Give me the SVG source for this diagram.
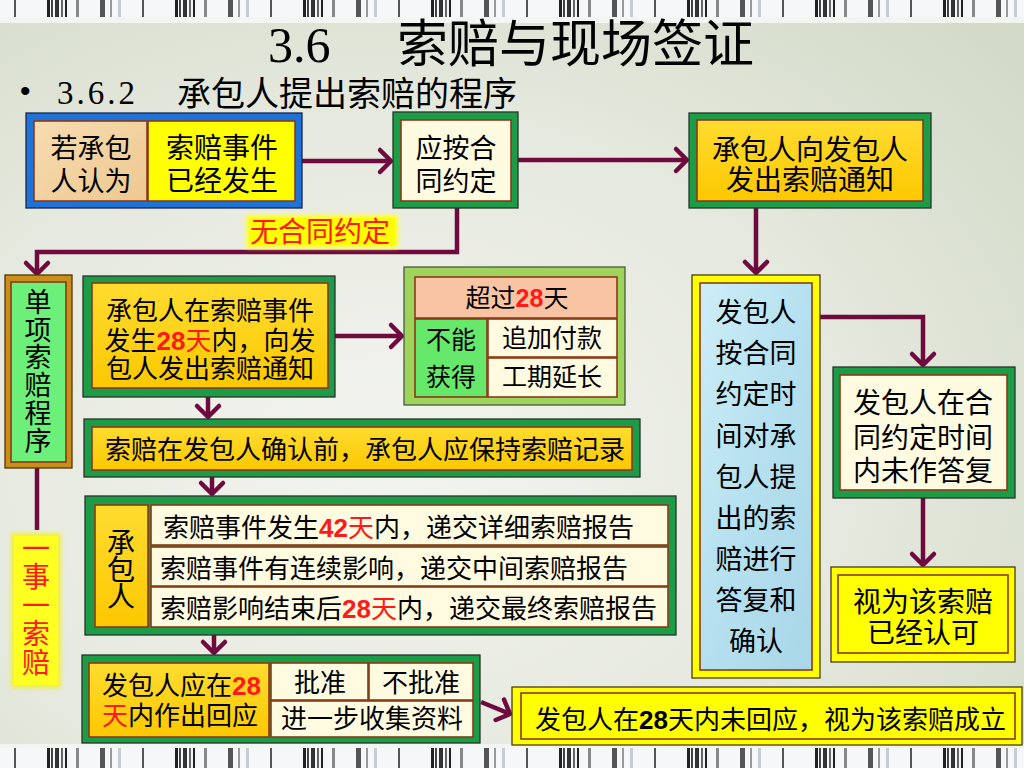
<svg xmlns="http://www.w3.org/2000/svg" width="1024" height="768" viewBox="0 0 1024 768">
<style>
.t{font-family:"Noto Sans CJK SC","Noto Sans CJK TC",sans-serif;font-size:26px;fill:#000}
.t25{font-size:25px}
.t27{font-size:27px}
.t28{font-size:28px}
.h1{font-size:51px}
.h2{font-size:34px}
.m{text-anchor:middle}
.v{writing-mode:vertical-rl;text-orientation:upright}
.d{font-family:"Liberation Sans",Arial,sans-serif;font-weight:bold}
.r{fill:#ff1a1a}
.fg{fill:#1d9c48;stroke:#2a332a;stroke-width:1.3}
.fb{fill:#1f72d6;stroke:#1a2550;stroke-width:1.3}
.fy{fill:#ffff00;stroke:#4a3c10;stroke-width:1.3}
.fl{fill:#9fd45c;stroke:#4b5a3c;stroke-width:1.3}
.fo{fill:#c98f18;stroke:#50360c;stroke-width:1.3}
.p{stroke:#8a3a18;stroke-width:1.6}
.pgold{fill:url(#gGold)}
.pyel{fill:#ffff00}
.pcream{fill:#fffbe0}
.ptan{fill:url(#gTan)}
.ppink{fill:#f8c4a4}
.pgrn{fill:#66e86a}
.plgrn{fill:#6cf07a}
.pblue{fill:url(#gBlue)}
.c{fill:none;stroke:#6e0a3e;stroke-width:4.5;marker-end:url(#arr)}
.cn{fill:none;stroke:#6e0a3e;stroke-width:4.5}
</style>
<defs>
<radialGradient id="bg" cx="0.38" cy="0.6" r="0.8">
<stop offset="0" stop-color="#f3f4ef"/>
<stop offset="0.55" stop-color="#e6e9df"/>
<stop offset="1" stop-color="#d3dbc8"/>
</radialGradient>
<linearGradient id="gGold" x1="0" y1="0" x2="0" y2="1">
<stop offset="0" stop-color="#ffdc30"/>
<stop offset="1" stop-color="#fcc800"/>
</linearGradient>
<linearGradient id="gTan" x1="0" y1="0" x2="1" y2="1">
<stop offset="0" stop-color="#f7dcb0"/>
<stop offset="1" stop-color="#eec890"/>
</linearGradient>
<linearGradient id="gBlue" x1="0" y1="0" x2="1" y2="1">
<stop offset="0" stop-color="#cdeef8"/>
<stop offset="0.5" stop-color="#b5e0ef"/>
<stop offset="1" stop-color="#a9d6e8"/>
</linearGradient>
<filter id="glow" x="-20%" y="-20%" width="140%" height="140%">
<feGaussianBlur stdDeviation="2"/>
</filter>
<marker id="arr" viewBox="0 0 14 24" refX="12" refY="12" markerWidth="14" markerHeight="24" markerUnits="userSpaceOnUse" orient="auto" overflow="visible">
<path d="M1,1 L12,12 L1,23" fill="none" stroke="#6e0a3e" stroke-width="4.5" stroke-linecap="round" stroke-linejoin="round"/>
</marker>
<pattern id="bars" x="0" y="0" width="128" height="24" patternUnits="userSpaceOnUse">
<rect width="128" height="24" fill="#f6f7f8"/>
<rect x="14" width="2" height="24" fill="#555"/>
<rect x="47" width="3" height="24" fill="#222"/>
<rect x="51" width="2" height="24" fill="#444"/>
<rect x="55" width="4" height="24" fill="#333"/>
<rect x="61" width="2" height="24" fill="#666"/>
<rect x="65" width="2" height="24" fill="#222"/>
<rect x="76" width="3" height="24" fill="#888"/>
<rect x="100" width="5" height="24" fill="#555"/>
<rect x="110" width="2" height="24" fill="#9a9a9a"/>
<rect x="118" width="3" height="24" fill="#c8ccd4"/>
</pattern>
</defs>

<rect width="1024" height="768" fill="url(#bg)"/>
<rect x="0" y="0" width="1024" height="17" fill="url(#bars)"/>
<rect x="0" y="17" width="1024" height="6" fill="#fafafa" opacity="0.8"/>
<rect x="0" y="748" width="1024" height="20" fill="url(#bars)"/>
<rect x="0" y="744" width="1024" height="4" fill="#fafafa" opacity="0.7"/>

<g id="title">
<text x="268" y="62" style="font-family:'Liberation Serif',serif;font-size:50px">3.6</text>
<text x="397" y="62" class="t h1">索赔与现场签证</text>
<text x="20" y="101" style="font-family:'Liberation Sans',sans-serif;font-size:30px">•</text>
<text x="57" y="104" style="font-family:'Liberation Serif',serif;font-size:33px;letter-spacing:3px">3.6.2</text>
<text x="177" y="106" class="t h2">承包人提出索赔的程序</text>
</g>

<g id="connectors">
<path class="c" d="M302,161 H391"/>
<path class="c" d="M518,160 H687"/>
<path class="c" d="M756,208 V273"/>
<path class="c" d="M457,208 V252 H37 V274"/>
<path class="cn" d="M37,467 V530"/>
<path class="c" d="M335,336 H402"/>
<path class="c" d="M208,397 V417"/>
<path class="c" d="M212,477 V494"/>
<path class="c" d="M214,635 V653"/>
<path class="c" d="M481,702 L510,714"/>
<path class="c" d="M818,317 H923 V365"/>
<path class="c" d="M923,498 V565"/>
<g id="label-nocontract">
<rect x="246" y="215" width="152" height="33" fill="#ffff30" filter="url(#glow)"/>
<rect x="249" y="218" width="146" height="27" fill="#ffff00"/>
<text class="t t28 r m" x="320" y="242">无合同约定</text>
</g>
</g>

<g id="n-claim-event">
<rect class="fb" x="26" y="113" width="276" height="95"/>
<rect class="p ptan" x="34" y="121" width="113" height="80"/>
<rect class="p pyel" x="148" y="121" width="147" height="80"/>
<text class="t t27 m" x="91" y="158">若承包</text>
<text class="t t27 m" x="91" y="191">人认为</text>
<text class="t t28 m" x="222" y="158">索赔事件</text>
<text class="t t28 m" x="222" y="191">已经发生</text>
</g>

<g id="n-contract">
<rect class="fg" x="393" y="112" width="125" height="96"/>
<rect class="p pcream" x="401" y="120" width="110" height="81"/>
<text class="t t27 m" x="456" y="158">应按合</text>
<text class="t t27 m" x="456" y="191">同约定</text>
</g>

<g id="n-notice">
<rect class="fg" x="689" y="113" width="242" height="95"/>
<rect class="p pgold" x="697" y="120" width="226" height="81"/>
<text class="t t28 m" x="810" y="160">承包人向发包人</text>
<text class="t t28 m" x="810" y="190">发出索赔通知</text>
</g>

<g id="n-single">
<rect class="fo" x="5" y="275" width="67" height="193"/>
<rect class="p plgrn" x="11" y="282" width="55" height="180"/>
<text class="t t27 v" x="38" y="288" style="letter-spacing:0.8px">单项索赔程序</text>
</g>

<g id="n-oneclaim">
<rect x="11" y="533" width="50" height="155" fill="#f0f040" filter="url(#glow)"/>
<rect x="14" y="536" width="44" height="149" fill="#ffff22"/>
<text class="t t28 r v" x="36" y="534" style="letter-spacing:0.5px">一事一索赔</text>
</g>

<g id="n-notify28">
<rect class="fg" x="83" y="276" width="252" height="121"/>
<rect class="p pgold" x="92" y="283" width="236" height="105"/>
<text class="t m" x="210" y="320">承包人在索赔事件</text>
<text class="t m" x="210" y="350">发生<tspan class="d r">28</tspan><tspan class="r">天</tspan>内，向发</text>
<text class="t m" x="210" y="378">包人发出索赔通知</text>
</g>

<g id="n-over28">
<rect class="fl" x="404" y="267" width="221" height="138"/>
<rect class="p ppink" x="415" y="277" width="202" height="41"/>
<rect class="p pgrn" x="415" y="319" width="72" height="78"/>
<rect class="p pcream" x="488" y="319" width="129" height="38"/>
<rect class="p pcream" x="488" y="358" width="129" height="39"/>
<text class="t t25 m" x="517" y="307">超过<tspan class="d r">28</tspan>天</text>
<text class="t t25 m" x="451" y="349">不能</text>
<text class="t t25 m" x="451" y="386">获得</text>
<text class="t t25 m" x="552" y="347">追加付款</text>
<text class="t t25 m" x="552" y="386">工期延长</text>
</g>

<g id="n-keep">
<rect class="fg" x="84" y="419" width="556" height="58"/>
<rect class="p pgold" x="92" y="427" width="540" height="43"/>
<text class="t" x="105" y="459">索赔在发包人确认前，承包人应保持索赔记录</text>
</g>

<g id="n-report">
<rect class="fg" x="85" y="496" width="591" height="139"/>
<rect class="p pgold" x="95" y="505" width="53" height="122"/>
<rect class="p pcream" x="151" y="505" width="517" height="40"/>
<rect class="p pcream" x="151" y="547" width="517" height="39"/>
<rect class="p pcream" x="151" y="587" width="517" height="40"/>
<text class="t t28 v" x="121" y="528" style="letter-spacing:-1px">承包人</text>
<text class="t" x="163" y="537">索赔事件发生<tspan class="d r">42</tspan><tspan class="r">天</tspan>内，递交详细索赔报告</text>
<text class="t" x="160" y="578">索赔事件有连续影响，递交中间索赔报告</text>
<text class="t" x="160" y="618">索赔影响结束后<tspan class="d r">28</tspan><tspan class="r">天</tspan>内，递交最终索赔报告</text>
</g>

<g id="n-respond">
<rect class="fg" x="82" y="655" width="398" height="88"/>
<rect class="p pgold" x="89" y="663" width="180" height="74"/>
<rect class="p pcream" x="271" y="663" width="97" height="37"/>
<rect class="p pcream" x="369" y="663" width="104" height="37"/>
<rect class="p pcream" x="271" y="701" width="202" height="36"/>
<text class="t" x="102" y="695">发包人应在<tspan class="d r">28</tspan></text>
<text class="t" x="102" y="725"><tspan class="r">天</tspan>内作出回应</text>
<text class="t m" x="320" y="692">批准</text>
<text class="t m" x="421" y="692">不批准</text>
<text class="t m" x="372" y="728">进一步收集资料</text>
</g>

<g id="n-deemed-valid">
<rect class="fy" x="512" y="687" width="510" height="58"/>
<rect class="p pyel" x="521" y="693" width="494" height="46"/>
<text class="t" x="535" y="729">发包人在<tspan class="d">28</tspan>天内未回应，视为该索赔成立</text>
</g>

<g id="n-owner">
<rect class="fy" x="692" y="275" width="128" height="403"/>
<rect class="p pblue" x="700" y="283" width="112" height="387"/>
<text class="t t27 m" x="756" y="322">发包人</text>
<text class="t t27 m" x="756" y="363">按合同</text>
<text class="t t27 m" x="756" y="404">约定时</text>
<text class="t t27 m" x="756" y="446">间对承</text>
<text class="t t27 m" x="756" y="487">包人提</text>
<text class="t t27 m" x="756" y="528">出的索</text>
<text class="t t27 m" x="756" y="569">赔进行</text>
<text class="t t27 m" x="756" y="610">答复和</text>
<text class="t t27 m" x="756" y="651">确认</text>
</g>

<g id="n-noreply">
<rect class="fg" x="833" y="367" width="182" height="131"/>
<rect class="p pcream" x="840" y="375" width="167" height="115"/>
<text class="t t28 m" x="923" y="413">发包人在合</text>
<text class="t t28 m" x="923" y="448">同约定时间</text>
<text class="t t28 m" x="923" y="481">内未作答复</text>
</g>

<g id="n-approved">
<rect class="fy" x="831" y="567" width="184" height="95"/>
<rect class="p pyel" x="838" y="575" width="170" height="78"/>
<text class="t t28 m" x="923" y="612">视为该索赔</text>
<text class="t t28 m" x="923" y="643">已经认可</text>
</g>
</svg>
